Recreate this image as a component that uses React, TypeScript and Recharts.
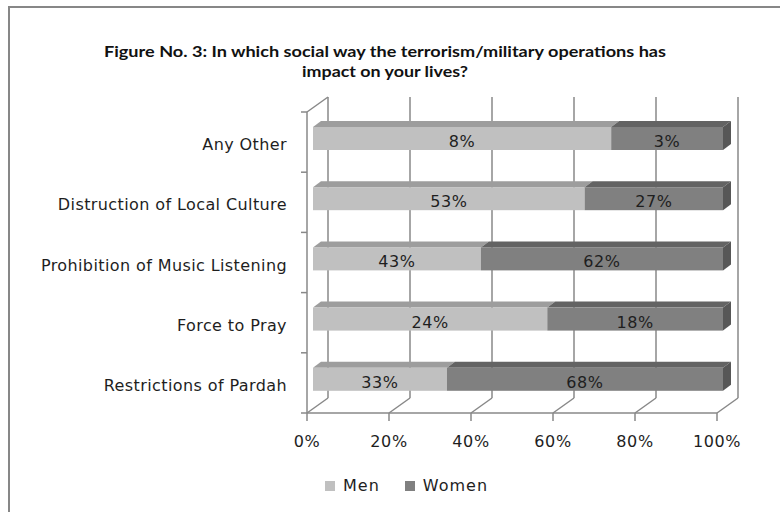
import React from 'react'
import {
  BarChart,
  Bar,
  XAxis,
  YAxis,
  CartesianGrid,
  Legend,
  LabelList,
} from 'recharts'

const categories = [
  'Any Other',
  'Distruction of Local Culture',
  'Prohibition of Music Listening',
  'Force to Pray',
  'Restrictions of Pardah',
]
const menValues = [8, 53, 43, 24, 33]
const womenValues = [3, 27, 62, 18, 68]
const xTicks = [0, 0.2, 0.4, 0.6, 0.8, 1]

const data = categories.map((name, i) => ({ name, men: menValues[i], women: womenValues[i] }))

const FONT = '"DejaVu Sans", sans-serif'
const LINE = '#888'

// 3D look: the walls go back by WALL_DX/WALL_DY, the bars sit a bit into that depth
const WALL_DX = 21
const WALL_DY = 15
const BAR_OX = 6
const BAR_OY = -4
const BAR_DX = 8
const BAR_DY = 6

const COLORS = {
  men: { front: '#c0c0c0', top: '#9d9d9d' },
  women: { front: '#808080', top: '#636363', side: '#575757' },
}

function makeShape(key: 'men' | 'women') {
  return (props: any) => {
    const { x, y, width, height } = props
    const fx = x + BAR_OX
    const fy = y + BAR_OY
    const c: any = COLORS[key]
    const top = `${fx},${fy} ${fx + BAR_DX},${fy - BAR_DY} ${fx + width + BAR_DX},${fy - BAR_DY} ${fx + width},${fy}`
    return (
      <g>
        <polygon points={top} fill={c.top} />
        <rect x={fx} y={fy} width={width} height={height} fill={c.front} />
        {key === 'women' && (
          <polygon
            points={`${fx + width},${fy} ${fx + width + BAR_DX},${fy - BAR_DY} ${fx + width + BAR_DX},${fy + height - BAR_DY} ${fx + width},${fy + height}`}
            fill={c.side}
          />
        )}
      </g>
    )
  }
}

const renderValue = (props: any) => {
  const { x, y, width, height, value } = props
  return (
    <text
      x={x + BAR_OX + width / 2}
      y={y + BAR_OY + height / 2 + 8.5}
      textAnchor="middle"
      fontSize={16}
      fontFamily={FONT}
      letterSpacing={0.6}
      fill="#1e1e1e"
    >
      {value}%
    </text>
  )
}

const gridLine = (props: any) => {
  const { x1, y1, y2, index } = props
  const bx = x1 + WALL_DX
  return (
    <g key={`g-${index}`}>
      <line x1={x1} y1={y2} x2={bx} y2={y2 - WALL_DY} stroke={LINE} strokeWidth={1.5} />
      <line x1={bx} y1={y2 - WALL_DY} x2={bx} y2={y1 - WALL_DY} stroke={LINE} strokeWidth={1.5} />
      {index === 0 && (
        <line x1={x1} y1={y1} x2={bx} y2={y1 - WALL_DY} stroke={LINE} strokeWidth={1.5} />
      )}
    </g>
  )
}

const CategoryTick = (props: any) => {
  const { x, y, payload, index, visibleTicksCount } = props
  const half = 30.1
  return (
    <g>
      <line x1={x + 14} x2={x + 20} y1={y - half} y2={y - half} stroke={LINE} strokeWidth={1.5} />
      {index === visibleTicksCount - 1 && (
        <line x1={x + 14} x2={x + 20} y1={y + half} y2={y + half} stroke={LINE} strokeWidth={1.5} />
      )}
      <text
        x={x}
        y={y + 8}
        textAnchor="end"
        fontSize={16}
        fontFamily={FONT}
        letterSpacing={0.4}
        fill="#1e1e1e"
      >
        {payload.value}
      </text>
    </g>
  )
}

const PercentTick = (props: any) => {
  const { x, y, payload } = props
  return (
    <text
      x={x}
      y={y + 26}
      textAnchor="middle"
      fontSize={16}
      fontFamily={FONT}
      letterSpacing={0.6}
      fill="#1e1e1e"
    >
      {Math.round(payload.value * 100)}%
    </text>
  )
}

const renderLegend = (props: any) => {
  const { payload } = props
  return (
    <div style={{ display: 'flex', gap: 25, fontFamily: FONT, fontSize: 16, letterSpacing: 1, color: '#1e1e1e', lineHeight: '20px' }}>
      {payload.map((p: any) => (
        <div key={p.value} style={{ display: 'flex', alignItems: 'center', gap: 8 }}>
          <span style={{ width: 10, height: 10, background: p.color, display: 'inline-block' }} />
          <span>{p.value}</span>
        </div>
      ))}
    </div>
  )
}

export default function App() {
  return (
    <div
      style={{
        position: 'absolute',
        left: 0,
        top: 0,
        width: 780,
        height: 512,
        overflow: 'hidden',
        background: '#fff',
      }}
    >
      <div
        style={{
          position: 'absolute',
          left: 8,
          top: 6,
          width: 820,
          height: 540,
          border: '2px solid #878787',
        }}
      />
      <svg width={780} height={100} style={{ position: 'absolute', left: 0, top: 0 }}>
        <text
          x={385}
          y={56.7}
          textAnchor="middle"
          fontFamily='Lato, sans-serif'
          fontWeight="bold"
          fontSize={15}
          textLength={562}
          lengthAdjust="spacingAndGlyphs"
          fill="#111"
        >
          Figure No. 3: In which social way the terrorism/military operations has
        </text>
        <text
          x={385}
          y={76.7}
          textAnchor="middle"
          fontFamily='Lato, sans-serif'
          fontWeight="bold"
          fontSize={15}
          textLength={166}
          lengthAdjust="spacingAndGlyphs"
          fill="#111"
        >
          impact on your lives?
        </text>
      </svg>
      <div style={{ position: 'absolute', left: 0, top: 0 }}>
        <BarChart
          width={780}
          height={512}
          data={data}
          layout="vertical"
          stackOffset="expand"
          margin={{ top: 112, right: 63, bottom: 49, left: 0 }}
        >
          <CartesianGrid horizontal={false} vertical={gridLine} />
          <XAxis
            type="number"
            domain={[0, 1]}
            ticks={xTicks}
            height={30}
            tickSize={8}
            tickMargin={0}
            stroke={LINE}
            axisLine={{ stroke: LINE, strokeWidth: 1.5 }}
            tickLine={{ stroke: LINE, strokeWidth: 1.5 }}
            tick={<PercentTick />}
            interval={0}
          />
          <YAxis
            type="category"
            dataKey="name"
            width={307}
            tickSize={0}
            tickMargin={20}
            axisLine={{ stroke: LINE, strokeWidth: 1.5 }}
            tickLine={false}
            tick={<CategoryTick />}
            interval={0}
          />
          <Legend
            content={renderLegend}
            wrapperStyle={{ position: 'absolute', left: 325, top: 476, width: 'auto', height: 20 }}
          />
          <Bar dataKey="men" name="Men" stackId="a" fill={COLORS.men.front} barSize={23} shape={makeShape('men')} isAnimationActive={false}>
            <LabelList dataKey="men" content={renderValue} />
          </Bar>
          <Bar dataKey="women" name="Women" stackId="a" fill={COLORS.women.front} barSize={23} shape={makeShape('women')} isAnimationActive={false}>
            <LabelList dataKey="women" content={renderValue} />
          </Bar>
        </BarChart>
      </div>
    </div>
  )
}
